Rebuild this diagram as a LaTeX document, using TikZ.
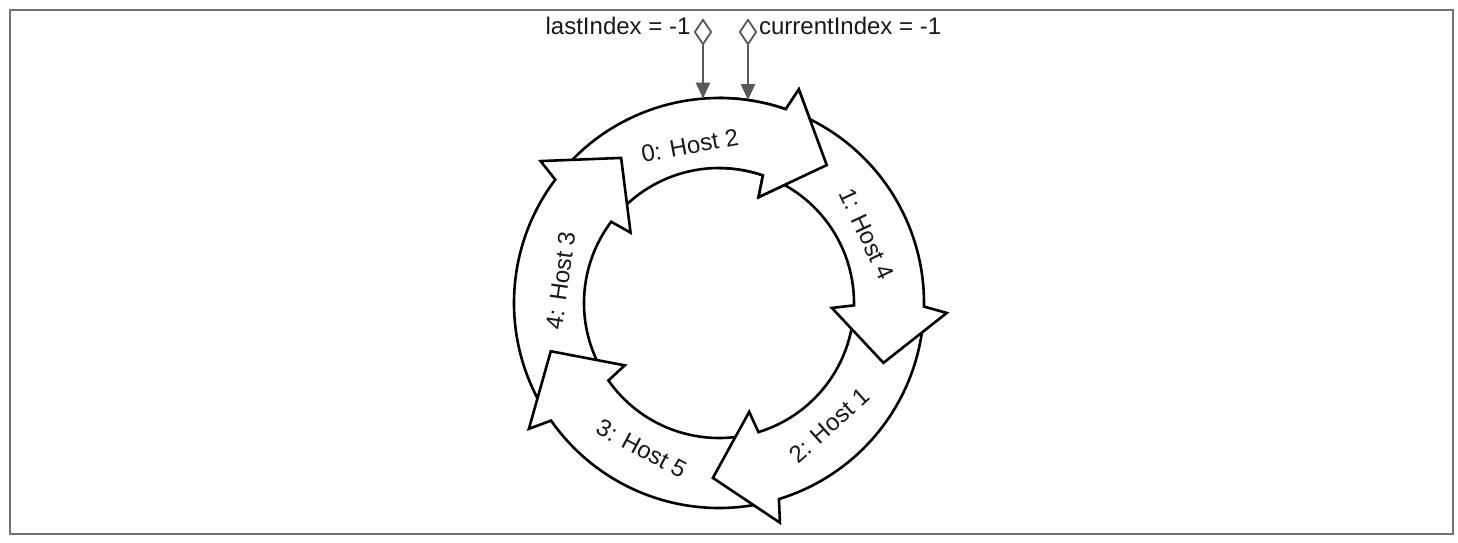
\documentclass[tikz,border=0pt]{standalone}
\usepackage{fontspec}
\setmainfont{Liberation Sans}
\usetikzlibrary{arrows.meta,shapes.geometric}
\newcommand{\ringarrowpath}[1]{({#1+68}:205) arc[start angle={#1+68}, end angle={#1}, radius=205] -- ({#1-1.5}:228) -- ({#1-19}:175) -- ({#1-1.5}:113) -- ({#1}:135) arc[start angle={#1}, end angle={#1+68}, radius=135] -- cycle}
\begin{document}
\begin{tikzpicture}[x=1pt,y=1pt,
  ringarrow/.style={draw=black, line width=2.6pt, fill=white, line join=miter},
  lbl/.style={font=\fontsize{24}{28}\selectfont, text=black!90, inner sep=0pt},
  ptr/.style={draw=black!65, line width=2.4pt, -{Triangle[width=14pt,length=16pt]}},
  dia/.style={diamond, draw=black!65, line width=1.8pt, fill=white, minimum width=17pt, minimum height=25pt, inner sep=0pt}
]
\useasboundingbox (-719,-239) rectangle (739,303);
\fill[white] (-719,-239) rectangle (739,303);
\draw[black!55, line width=1.8pt] (-709,-231) rectangle (734,293);

% ring arrows (each head lies over the next one's tail)
\draw[ringarrow] \ringarrowpath{71};
\draw[ringarrow] \ringarrowpath{-217};
\draw[ringarrow] \ringarrowpath{-145};
\draw[ringarrow] \ringarrowpath{-73};
\draw[ringarrow] \ringarrowpath{-1};
\begin{scope}
  \clip (0,-300) rectangle (300,300);
  \draw[ringarrow] \ringarrowpath{71};
\end{scope}

% labels on the arrows
\node[lbl, rotate=10.5] (h0) at (100.5:160) {0: Host 2};
\node[lbl, rotate=-65] (h1) at (25:163) {1: Host 4};
\node[lbl, rotate=42] (h2) at (-48:165) {2: Host 1};
\node[lbl, rotate=-28] (h3) at (-118:165) {3: Host 5};
\node[lbl, rotate=82] (h4) at (172:160) {4: Host 3};

% index pointers
\node[dia] (d1) at (-16,271) {};
\node[dia] (d2) at (29,271) {};
\coordinate (e1) at (-16,204.4);
\coordinate (e2) at (29,202.9);
\draw[ptr] (d1.south) -- (e1);
\draw[ptr] (d2.south) -- (e2);
\node[lbl, anchor=east] (t1) at ([xshift=-3pt,yshift=6.5pt]d1.west) {lastIndex = -1};
\node[lbl, anchor=west] (t2) at ([xshift=1.5pt,yshift=6.5pt]d2.east) {currentIndex = -1};
\end{tikzpicture}
\end{document}
